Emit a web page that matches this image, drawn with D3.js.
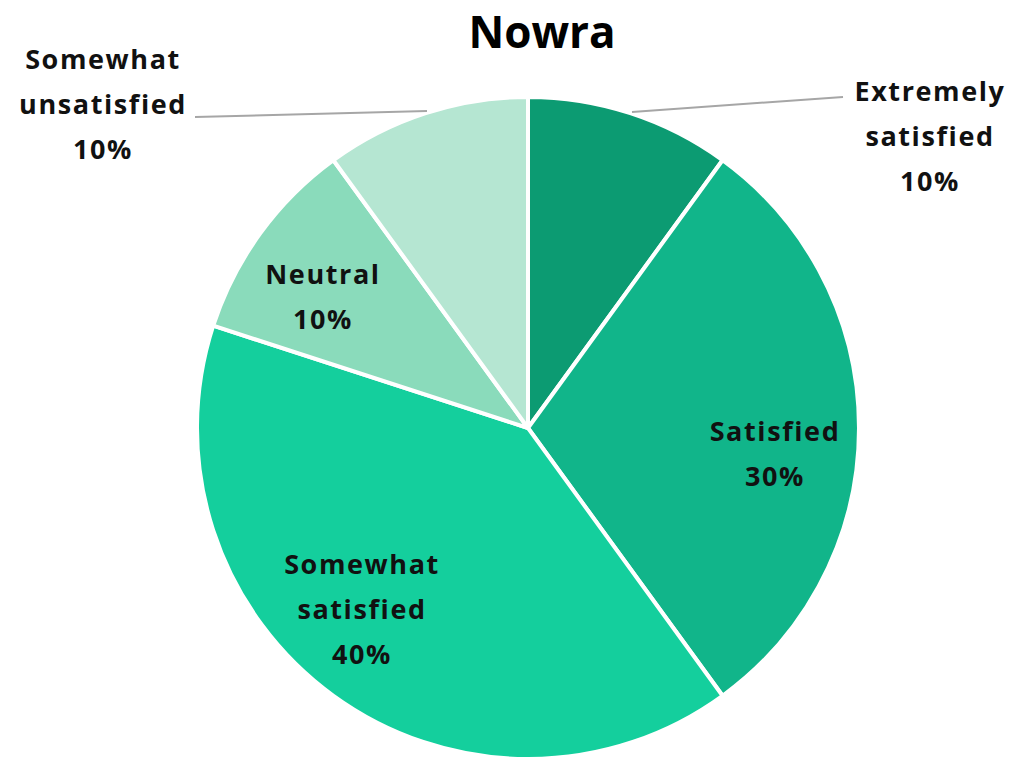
<!DOCTYPE html>
<html><head><meta charset="utf-8">
<script src="https://cdn.jsdelivr.net/npm/d3@7"></script>
<style>body{margin:0;background:#fff}svg{display:block}</style>
</head><body>
<script>
const title = "Nowra";
const categories = ["Extremely satisfied","Satisfied","Somewhat satisfied","Neutral","Somewhat unsatisfied"];
const values = [10,30,40,10,10];
const labelLines = [["Extremely","satisfied","10%"],["Satisfied","30%"],["Somewhat","satisfied","40%"],["Neutral","10%"],["Somewhat","unsatisfied","10%"]];
const colors = ["#0c9b72","#11b58a","#14cf9d","#8adbbb","#b5e6d2"];

// layout (positions only)
const W=1015,H=757,cx=528,cy=428,R=331;
const labelPos=[[930,90],[775,430],[362,563],[323,273],[103,58]];
const leaders=[[[632,112],[843,97]],null,null,null,[[427,111],[195,117]]];

const svg=d3.select("body").append("svg").attr("width",W).attr("height",H);
svg.append("text").attr("x",542).attr("y",48).attr("text-anchor","middle")
  .attr("font-family","Open Sans, Lato, sans-serif").attr("font-weight","bold").attr("font-size",44).attr("fill","#000").text(title);

const pie=d3.pie().sort(null).value(d=>d)(values);
const arc=d3.arc().innerRadius(0).outerRadius(R);
const color=d3.scaleOrdinal().domain(categories).range(colors);
const g=svg.append("g").attr("transform",`translate(${cx},${cy})`);
g.selectAll("path").data(pie).join("path").attr("d",arc).attr("fill",(d,i)=>color(categories[i]))
  .attr("stroke","#fff").attr("stroke-width",4).attr("stroke-linejoin","round");

leaders.forEach(l=>{ if(!l) return;
  svg.append("line").attr("x1",l[0][0]).attr("y1",l[0][1]).attr("x2",l[1][0]).attr("y2",l[1][1])
    .attr("stroke","#a6a6a6").attr("stroke-width",2);
});

labelLines.forEach((lines,i)=>{
  const t=svg.append("text").attr("text-anchor","middle").attr("font-family","Open Sans, Lato, sans-serif")
    .attr("font-weight","bold").attr("font-size",27).attr("letter-spacing",1.6).attr("fill","#111");
  lines.forEach((s,j)=>{
    t.append("tspan").attr("x",labelPos[i][0]).attr("y",labelPos[i][1]+j*45).attr("dominant-baseline","central").text(s);
  });
});
</script>
</body></html>
